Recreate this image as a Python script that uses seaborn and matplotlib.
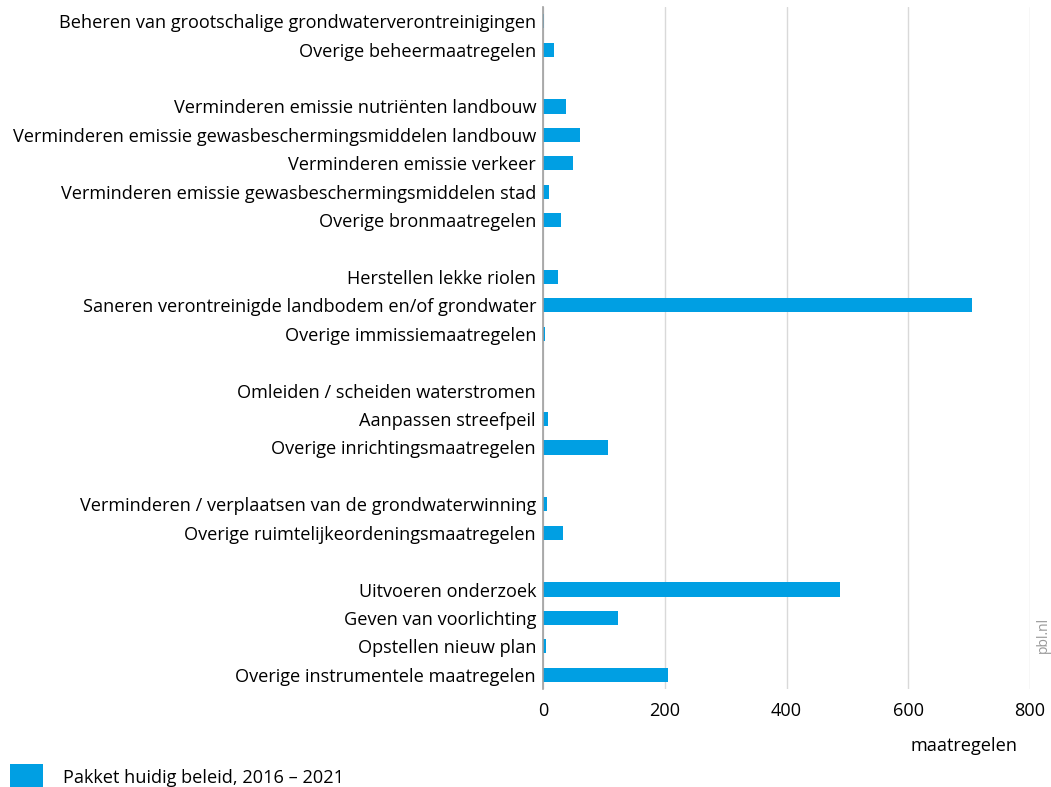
import pandas as pd
import seaborn as sns
import matplotlib.pyplot as plt

# maatregelen per categorie (None = lege rij tussen de groepen)
labels = [
    "Beheren van grootschalige grondwaterverontreinigingen",
    "Overige beheermaatregelen",
    None,
    "Verminderen emissie nutriënten landbouw",
    "Verminderen emissie gewasbeschermingsmiddelen landbouw",
    "Verminderen emissie verkeer",
    "Verminderen emissie gewasbeschermingsmiddelen stad",
    "Overige bronmaatregelen",
    None,
    "Herstellen lekke riolen",
    "Saneren verontreinigde landbodem en/of grondwater",
    "Overige immissiemaatregelen",
    None,
    "Omleiden / scheiden waterstromen",
    "Aanpassen streefpeil",
    "Overige inrichtingsmaatregelen",
    None,
    "Verminderen / verplaatsen van de grondwaterwinning",
    "Overige ruimtelijkeordeningsmaatregelen",
    None,
    "Uitvoeren onderzoek",
    "Geven van voorlichting",
    "Opstellen nieuw plan",
    "Overige instrumentele maatregelen",
]
values = [2, 18, None, 38, 61, 50, 10, 29, None, 24, 705, 4, None,
          0, 9, 106, None, 6, 33, None, 488, 123, 4.5, 205]

series_label = "Pakket huidig beleid, 2016 – 2021"
bar_color = "#009fe3"

# lege rijen krijgen een unieke naam van spaties
order = []
blank = 1
for lab in labels:
    if lab is None:
        order.append(" " * blank)
        blank += 1
    else:
        order.append(lab)

df = pd.DataFrame({"maatregel": [o for o, v in zip(order, values) if v is not None],
                   "aantal": [v for v in values if v is not None]})

sns.set_style("white")
plt.rcParams['font.family'] = ['Open Sans', 'DejaVu Sans']
plt.rcParams['text.color'] = 'black'

fs = 13.1
fig = plt.figure(figsize=(10.51, 7.87), dpi=100)
ax = fig.add_axes([543 / 1051, 1 - 689 / 787, 487 / 1051, 682 / 787])

sns.barplot(data=df, x="aantal", y="maatregel", order=order, color=bar_color,
            saturation=1, width=0.5, linewidth=0, label=series_label, ax=ax)

ax.set_xlim(0, 800)
ax.set_xticks([0, 200, 400, 600, 800])
ax.set_xlabel("")
ax.set_ylabel("")
ax.xaxis.grid(True, color="#d9d9d9", linewidth=1)
ax.set_axisbelow(True)
for s in ["top", "right", "bottom"]:
    ax.spines[s].set_visible(False)
ax.spines["left"].set_color("#a0a0a0")
ax.spines["left"].set_linewidth(1.2)
ax.tick_params(axis="y", length=0, pad=5, labelsize=fs, labelcolor="black")
ax.tick_params(axis="x", length=0, pad=9, labelsize=fs, labelcolor="black")

handles, hl = ax.get_legend_handles_labels()
if ax.get_legend() is not None:
    ax.get_legend().remove()
fig.legend(handles, hl, loc="upper left", bbox_to_anchor=(10 / 1051, 1 - 764 / 787),
           frameon=False, fontsize=fs, handlelength=1.8, handleheight=1.8,
           handletextpad=1.1, borderpad=0, borderaxespad=0)

fig.text(1017 / 1051, 1 - 746 / 787, "maatregelen", ha="right", va="center",
         fontsize=fs)
fig.text(1043 / 1051, 1 - 635 / 787, "pbl.nl", rotation=90, ha="center",
         va="center", fontsize=10, color="#999999")

fig.savefig("out.png", dpi=100)
